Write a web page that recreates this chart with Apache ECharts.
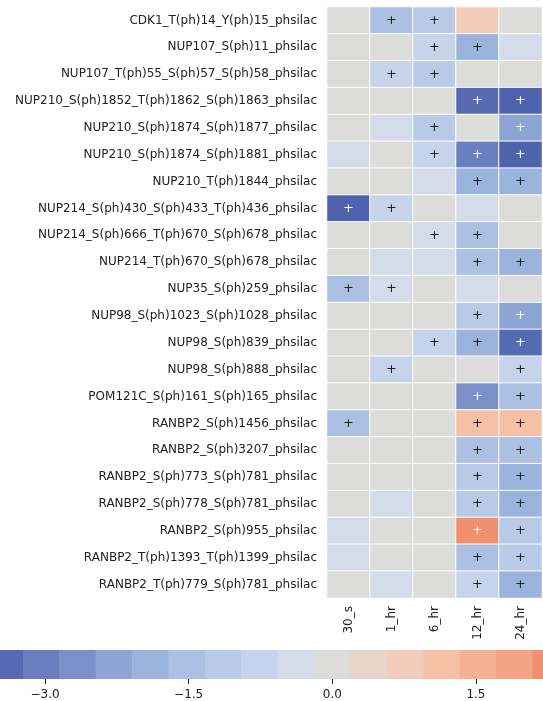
<!DOCTYPE html>
<html>
<head>
<meta charset="utf-8">
<script src="https://cdn.jsdelivr.net/npm/echarts@6/dist/echarts.min.js"></script>
<style>
  html, body { margin: 0; padding: 0; background: #fff; }
  #heat { width: 543px; height: 701px; }
</style>
</head>
<body>
<div id="heat"></div>
<script>
const sites = [
  'CDK1_T(ph)14_Y(ph)15_phsilac',
  'NUP107_S(ph)11_phsilac',
  'NUP107_T(ph)55_S(ph)57_S(ph)58_phsilac',
  'NUP210_S(ph)1852_T(ph)1862_S(ph)1863_phsilac',
  'NUP210_S(ph)1874_S(ph)1877_phsilac',
  'NUP210_S(ph)1874_S(ph)1881_phsilac',
  'NUP210_T(ph)1844_phsilac',
  'NUP214_S(ph)430_S(ph)433_T(ph)436_phsilac',
  'NUP214_S(ph)666_T(ph)670_S(ph)678_phsilac',
  'NUP214_T(ph)670_S(ph)678_phsilac',
  'NUP35_S(ph)259_phsilac',
  'NUP98_S(ph)1023_S(ph)1028_phsilac',
  'NUP98_S(ph)839_phsilac',
  'NUP98_S(ph)888_phsilac',
  'POM121C_S(ph)161_S(ph)165_phsilac',
  'RANBP2_S(ph)1456_phsilac',
  'RANBP2_S(ph)3207_phsilac',
  'RANBP2_S(ph)773_S(ph)781_phsilac',
  'RANBP2_S(ph)778_S(ph)781_phsilac',
  'RANBP2_S(ph)955_phsilac',
  'RANBP2_T(ph)1393_T(ph)1399_phsilac',
  'RANBP2_T(ph)779_S(ph)781_phsilac'
]
const timepoints = ['30_s', '1_hr', '6_hr', '12_hr', '24_hr']

// log2 fold change per time point (one value per site)
const fc30s = [0, 0, 0, 0, 0, -0.4, 0, -3.6, 0, 0, -1.5, 0, 0, 0, 0, -1.5, 0, 0, 0, -0.4, -0.4, 0]
const fc1hr = [-1.5, 0, -0.75, 0, -0.4, 0, 0, -0.75, 0, -0.4, -0.4, 0, 0, -0.75, 0, 0, 0, 0, -0.4, 0, 0, -0.4]
const fc6hr = [-1.15, -0.75, -1.15, 0, -1.15, -0.75, -0.4, 0, -0.4, -0.4, 0, 0, -0.75, 0, 0, 0, 0, 0, 0, 0, 0, 0]
const fc12hr = [0.75, -1.9, 0, -3.35, 0, -3.0, -1.9, -0.4, -1.5, -1.5, -0.4, -1.15, -1.9, 0, -2.65, 1.15, -1.5, -1.15, -1.15, 2.15, -1.5, -0.75]
const fc24hr = [0, -0.4, 0, -3.6, -2.3, -3.6, -1.9, 0, 0, -1.9, 0, -2.3, -3.35, -0.75, -1.5, 1.15, -1.5, -1.9, -1.9, -1.15, -1.15, -1.9]

// significance marks (+)
const sig30s = [0, 0, 0, 0, 0, 0, 0, 1, 0, 0, 1, 0, 0, 0, 0, 1, 0, 0, 0, 0, 0, 0]
const sig1hr = [1, 0, 1, 0, 0, 0, 0, 1, 0, 0, 1, 0, 0, 1, 0, 0, 0, 0, 0, 0, 0, 0]
const sig6hr = [1, 1, 1, 0, 1, 1, 0, 0, 1, 0, 0, 0, 1, 0, 0, 0, 0, 0, 0, 0, 0, 0]
const sig12hr = [0, 1, 0, 1, 0, 1, 1, 0, 1, 1, 0, 1, 1, 0, 1, 1, 1, 1, 1, 1, 1, 1]
const sig24hr = [0, 0, 0, 1, 1, 1, 1, 0, 0, 1, 0, 1, 1, 1, 1, 1, 1, 1, 1, 1, 1, 1]

// discrete colour scale
const binEdges = [-3.47, -3.23, -2.85, -2.47, -2.09, -1.71, -1.33, -0.95, -0.57, -0.19, 0.19, 0.57, 0.95, 1.33, 1.71, 2.09, 2.2]
const binColors = ['#576bb4', '#6a7fc0', '#7b90c8', '#8ca5d5', '#9cb3dd', '#abc0e2', '#b8cae7', '#c5d4eb',
  '#d3dce8', '#dcdcda', '#e8d5c9', '#f2cdb9', '#f6c0a7', '#f5b194', '#f4a383', '#f0906f']
const underColor = '#4f62ae'
const cbarTicks = [-3.0, -1.5, 0.0, 1.5]

const font = 'DejaVu Sans'
const fcCols = [fc30s, fc1hr, fc6hr, fc12hr, fc24hr]
const sigCols = [sig30s, sig1hr, sig6hr, sig12hr, sig24hr]

const cells = []
fcCols.forEach(function (col, xi) {
  col.forEach(function (v, yi) {
    cells.push({
      value: [xi, yi, v],
      label: { show: sigCols[xi][yi] === 1, color: Math.abs(v) >= 2 ? '#fff' : '#222' }
    })
  })
})

const pieces = [{ lt: binEdges[0], color: underColor }]
binColors.forEach(function (c, i) {
  const p = { gte: binEdges[i], color: c }
  if (i < binColors.length - 1) p.lt = binEdges[i + 1]
  pieces.push(p)
})

const bins = binColors.map(function (c, i) {
  return { value: [binEdges[i], binEdges[i + 1], 0], itemStyle: { color: c } }
})

const option = {
  animation: false,
  textStyle: { fontFamily: font },
  grid: [
    { left: 327, top: 7, width: 215, height: 591 },
    { left: 0, right: 0, top: 650, height: 29 }
  ],
  xAxis: [
    {
      gridIndex: 0,
      type: 'category',
      data: timepoints,
      axisLine: { show: false },
      axisTick: { length: 4, alignWithLabel: true, lineStyle: { color: '#222' } },
      axisLabel: { rotate: 90, fontSize: 12, color: '#222', margin: 8, fontFamily: font },
      splitLine: { show: false }
    },
    {
      gridIndex: 1,
      type: 'value',
      min: binEdges[0],
      max: binEdges[binEdges.length - 1],
      axisLine: { show: false },
      splitLine: { show: false },
      axisTick: { show: true, customValues: cbarTicks, length: 5, lineStyle: { color: '#222' } },
      axisLabel: {
        customValues: cbarTicks,
        fontSize: 12,
        color: '#222',
        margin: 10,
        fontFamily: font,
        formatter: function (v) { return v.toFixed(1).replace('-', '\u2212') }
      }
    }
  ],
  yAxis: [
    {
      gridIndex: 0,
      type: 'category',
      data: sites,
      inverse: true,
      axisLine: { show: false },
      axisTick: { length: 4, alignWithLabel: true, lineStyle: { color: '#222' } },
      axisLabel: { fontSize: 12, color: '#222', margin: 10, fontFamily: font },
      splitLine: { show: false }
    },
    {
      gridIndex: 1,
      type: 'category',
      data: ['cbar'],
      show: false
    }
  ],
  visualMap: {
    type: 'piecewise',
    show: false,
    seriesIndex: 0,
    dimension: 2,
    pieces: pieces
  },
  series: [
    {
      type: 'heatmap',
      xAxisIndex: 0,
      yAxisIndex: 0,
      data: cells,
      itemStyle: { borderColor: '#fff', borderWidth: 1 },
      label: { show: false, formatter: '+', fontSize: 13, fontFamily: font },
      emphasis: { disabled: true }
    },
    {
      type: 'custom',
      xAxisIndex: 1,
      yAxisIndex: 1,
      data: bins,
      silent: true,
      renderItem: function (params, api) {
        const p0 = api.coord([api.value(0), 0])
        const p1 = api.coord([api.value(1), 0])
        const h = api.size([0, 1])[1]
        return {
          type: 'rect',
          shape: { x: p0[0], y: p0[1] - h / 2, width: p1[0] - p0[0] + 0.5, height: h },
          style: { fill: api.visual('color') }
        }
      }
    }
  ]
}

var myChart = echarts.init(document.getElementById('heat'))
myChart.setOption(option)
</script>
</body>
</html>
